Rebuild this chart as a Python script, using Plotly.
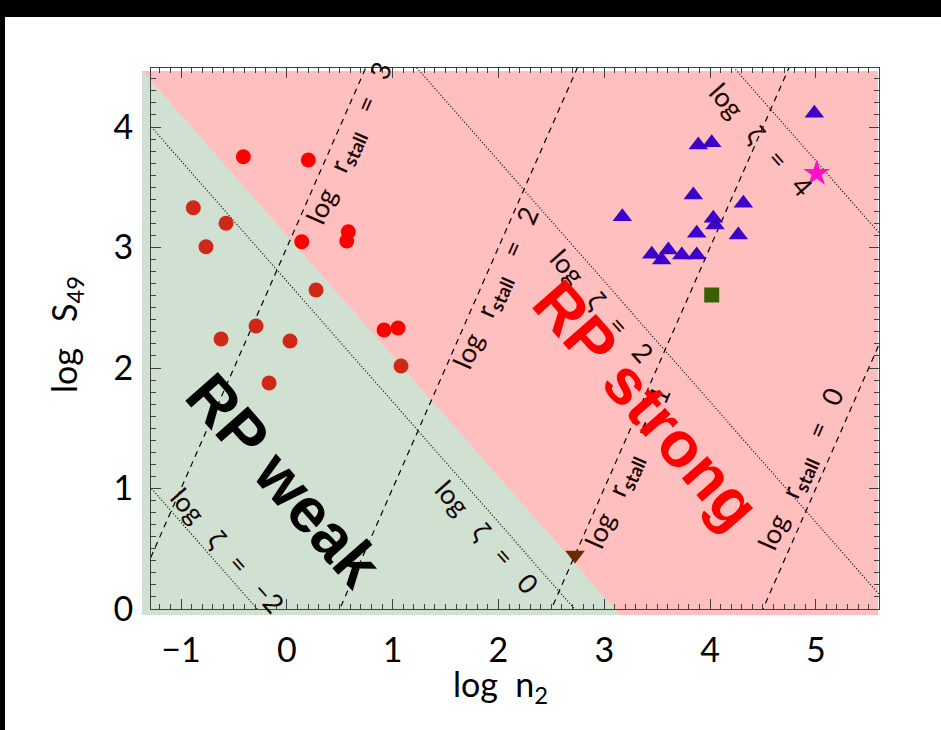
import plotly.graph_objects as go

# ---------------- data ----------------
# red circles (log n2, log S49)
circ_x = [-0.411, 0.203, -0.884, -0.575, -0.764, 0.141, 0.581, 0.566, 0.276,
          -0.622, -0.291, 0.030, -0.168, 0.919, 1.051, 1.079]
circ_y = [3.754, 3.726, 3.330, 3.201, 3.007, 3.048, 3.131, 3.054, 2.647,
          2.241, 2.349, 2.224, 1.876, 2.315, 2.332, 2.017]
# blue triangles
tri_x = [3.171, 3.449, 3.606, 3.543, 3.733, 3.874, 3.874, 3.842, 3.889, 4.016,
         4.031, 4.047, 4.267, 4.315, 4.986]
tri_y = [3.256, 2.944, 2.979, 2.896, 2.938, 2.938, 3.118, 3.436, 3.851, 3.870,
         3.242, 3.187, 3.104, 3.367, 4.114]
sq_x, sq_y = [4.016], [2.606]
dtri_x, dtri_y = [2.724], [0.448]
star_x, star_y = [5.008], [3.616]

# RP weak / strong boundary: log S49 + log n2 = BOUND
BOUND = 3.1
# log r_stall lines: y = 2 x + c
rstall_vals = [3, 2, 1, 0]
rstall_c = [3.0, -1.0, -5.0, -9.0]
# log zeta lines: y = -x + c
zeta_vals = [-2, 0, 2, 4]
zeta_c = [-0.28, 2.72, 5.72, 8.72]

x_ticks = [-1, 0, 1, 2, 3, 4, 5]
y_ticks = [0, 1, 2, 3, 4]

# label positions (data coords)
rstall_lab = [(0.60, 3.86), (1.987, 2.656), (3.225, 1.17), (4.87, 1.154)]
zeta_lab = [(-0.565, 0.49), (1.892, 0.598), (2.979, 2.515), (4.49, 3.90)]

# ---------------- geometry ----------------
XR = [-1.284, 5.597]
YR = [0.0, 4.49]
FXR = [-1.369, 5.588]
FYR = [-0.0498, 4.465]

FONT = "Lato"
sp = "\u00a0\u00a0\u00a0"

fig = go.Figure()

# background fills on the (invisible) xy axes
fig.add_trace(go.Scatter(x=[FXR[0], FXR[1], FXR[1], FXR[0]], y=[FYR[0], FYR[0], FYR[1], FYR[1]],
                         fill="toself", fillcolor="#ffbfbf", mode="none", hoverinfo="skip",
                         showlegend=False, xaxis="x", yaxis="y"))
fig.add_trace(go.Scatter(x=[FXR[0], FXR[0], BOUND - FYR[0]],
                         y=[BOUND - FXR[0], FYR[0], FYR[0]],
                         fill="toself", fillcolor="#d0e1d2", mode="none", hoverinfo="skip",
                         showlegend=False, xaxis="x", yaxis="y"))

xs = [-3.0, 8.0]
for c in rstall_c:
    fig.add_trace(go.Scatter(x=xs, y=[2 * v + c for v in xs], mode="lines",
                             line=dict(color="black", width=1.2, dash="6px,5px"),
                             hoverinfo="skip", showlegend=False, xaxis="x2", yaxis="y2"))
for c in zeta_c:
    fig.add_trace(go.Scatter(x=xs, y=[-v + c for v in xs], mode="lines",
                             line=dict(color="black", width=1.2, dash="1px,2px"),
                             hoverinfo="skip", showlegend=False, xaxis="x2", yaxis="y2"))

circ_col = ["#d02818" if (a + b) < BOUND else "#ff0000" for a, b in zip(circ_x, circ_y)]
fig.add_trace(go.Scatter(x=circ_x, y=circ_y, mode="markers",
                         marker=dict(symbol="circle", size=15, color=circ_col),
                         showlegend=False, xaxis="x2", yaxis="y2"))
fig.add_trace(go.Scatter(x=tri_x, y=tri_y, mode="markers",
                         marker=dict(symbol="triangle-up", size=17, color="#3c00c8"),
                         showlegend=False, xaxis="x2", yaxis="y2"))
fig.add_trace(go.Scatter(x=sq_x, y=sq_y, mode="markers",
                         marker=dict(symbol="square", size=15, color="#3a6000"),
                         showlegend=False, xaxis="x2", yaxis="y2"))
fig.add_trace(go.Scatter(x=dtri_x, y=dtri_y, mode="markers",
                         marker=dict(symbol="triangle-down", size=17, color="#662d00"),
                         showlegend=False, xaxis="x2", yaxis="y2"))
fig.add_trace(go.Scatter(x=star_x, y=star_y, mode="markers",
                         marker=dict(symbol="star", size=20, color="#ff10c8"),
                         showlegend=False, xaxis="x2", yaxis="y2"))

ann = []
for v, (ax_, ay_) in zip(rstall_vals, rstall_lab):
    ann.append(dict(x=ax_, y=ay_, xref="x2", yref="y2", showarrow=False,
                    xanchor="center", yanchor="middle",
                    text=f"log{sp}r<sub><b>stall</b></sub>{sp}={sp}{v}", textangle=-66.3,
                    font=dict(family=FONT, size=27, color="#1a0505")))
for v, (ax_, ay_) in zip(zeta_vals, zeta_lab):
    vs = f"\u2212{abs(v)}" if v < 0 else str(v)
    ann.append(dict(x=ax_, y=ay_, xref="x2", yref="y2", showarrow=False,
                    xanchor="center", yanchor="middle",
                    text=f"log{sp}\u03b6{sp}={sp}{vs}", textangle=48.7,
                    font=dict(family=FONT, size=27, color="#1a0505")))
ann.append(dict(x=-0.026, y=1.07, xref="x2", yref="y2", showarrow=False, text="<b>RP weak</b>",
                xanchor="center", yanchor="middle",
                textangle=48.7, font=dict(family="Liberation Sans", size=63, color="black")))
ann.append(dict(x=3.40, y=1.69, xref="x2", yref="y2", showarrow=False, text="<b>RP strong</b>",
                xanchor="center", yanchor="middle",
                textangle=48.7, font=dict(family="Liberation Sans", size=64, color="#ff0000")))
# axis titles
ann.append(dict(x=0.4858, y=-0.130, xref="paper", yref="paper", showarrow=False,
                xanchor="center", yanchor="middle",
                text="log\u00a0\u00a0n<sub>2</sub>", font=dict(family=FONT, size=34, color="black")))
ann.append(dict(x=-0.1031, y=0.512, xref="paper", yref="paper", showarrow=False, textangle=-90,
                xanchor="center", yanchor="middle",
                text="log\u00a0\u00a0\u00a0S<sub>49</sub>", font=dict(family=FONT, size=34, color="black")))

axcol = "#404040"
common = dict(showgrid=False, zeroline=False, showline=True, linecolor=axcol, linewidth=1,
              mirror="ticks", ticks="inside", ticklen=10, tickcolor=axcol, tickwidth=1,
              tickfont=dict(family=FONT, size=34, color="black"),
              minor=dict(dtick=0.1, ticks="inside", ticklen=5, tickcolor=axcol, tickwidth=1))

fig.update_layout(
    width=941, height=730,
    margin=dict(l=142, r=62, t=68, b=115),
    paper_bgcolor="white", plot_bgcolor="rgba(0,0,0,0)",
    xaxis=dict(domain=[0, 0.99864], range=FXR, visible=False, fixedrange=True),
    yaxis=dict(domain=[0, 0.99452], range=FYR, visible=False, fixedrange=True),
    xaxis2=dict(domain=[0.01221, 1.0], range=XR, anchor="y2", tickvals=x_ticks,
                ticklabelstandoff=11, **common),
    yaxis2=dict(domain=[0.01097, 1.0], range=YR, anchor="x2", tickvals=y_ticks,
                ticklabelstandoff=10, **common),
    annotations=ann,
    shapes=[
        dict(type="rect", xref="paper", yref="paper", x0=-0.3, x1=1.2, y0=1.0932, y1=1.3,
             fillcolor="black", line=dict(width=0), layer="above"),
        dict(type="rect", xref="paper", yref="paper", x0=-0.3, x1=-0.1859, y0=-0.4, y1=1.3,
             fillcolor="black", line=dict(width=0), layer="above"),
    ],
    showlegend=False,
)

fig.write_html("out.html")
